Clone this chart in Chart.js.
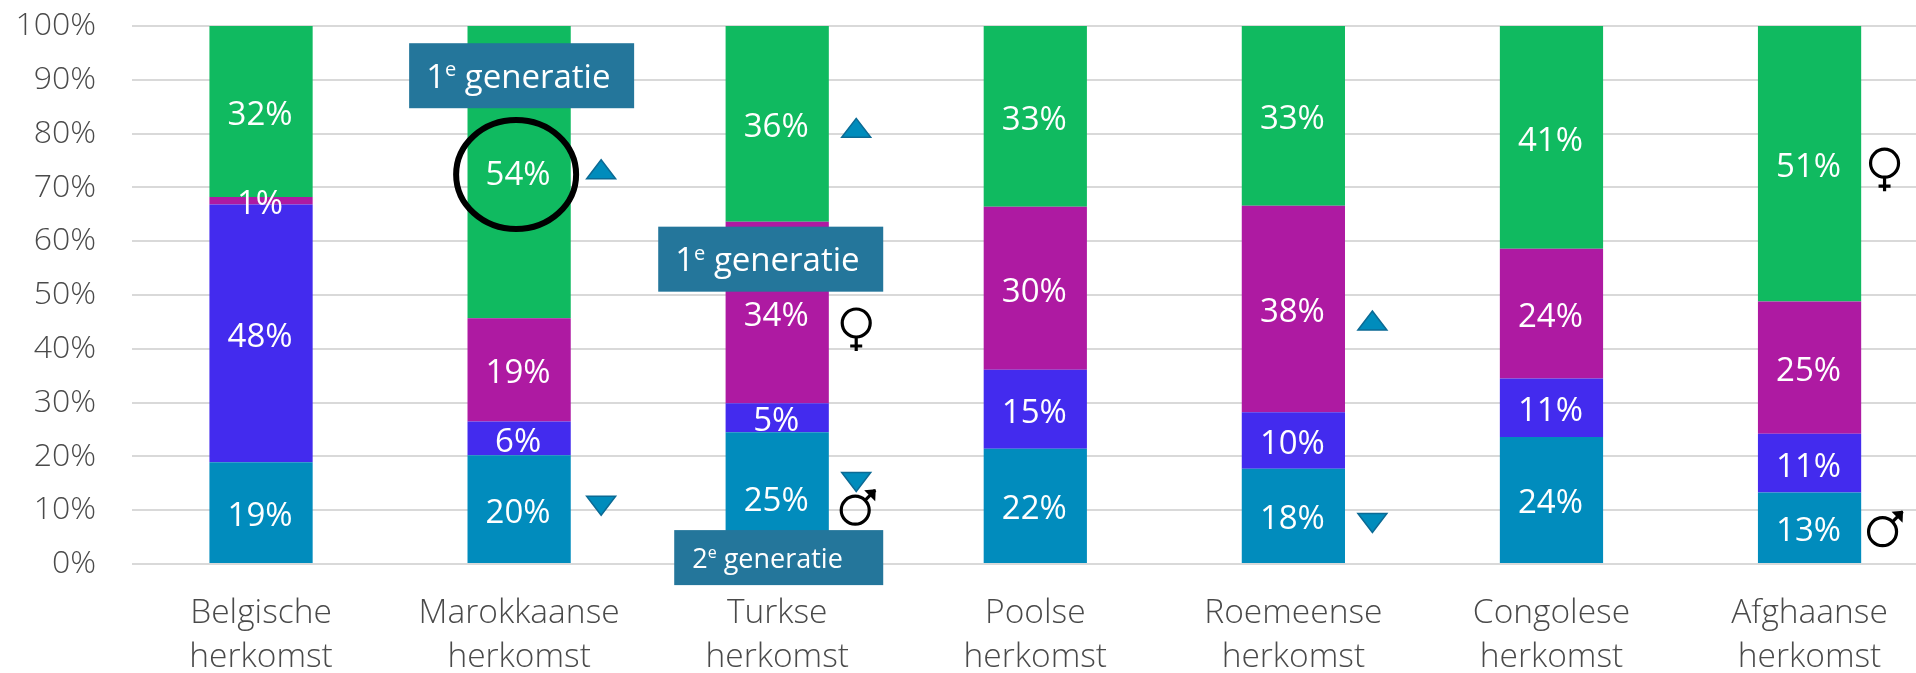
<!DOCTYPE html>
<html>
<head>
<meta charset="utf-8">
<style>html,body{margin:0;padding:0;background:#fff;overflow:hidden;width:1916px;height:673px}canvas{display:block}</style>
<script src="https://cdn.jsdelivr.net/npm/chart.js@4"></script>
</head>
<body>
<canvas id="c" width="1940" height="673"></canvas>
<script>
const categories = [["Belgische","herkomst"],["Marokkaanse","herkomst"],["Turkse","herkomst"],["Poolse","herkomst"],["Roemeense","herkomst"],["Congolese","herkomst"],["Afghaanse","herkomst"]];
const tealValues    = [18.9, 20.2, 24.5, 21.4, 17.7, 23.6, 13.3];
const purpleValues  = [47.9,  6.3,  5.4, 14.7, 10.5, 10.9, 10.9];
const magentaValues = [ 1.4, 19.2, 33.7, 30.3, 38.4, 24.1, 24.6];
const greenValues   = [31.8, 54.3, 36.4, 33.6, 33.4, 41.4, 51.2];
const tealLabels    = ["19%","20%","25%","22%","18%","24%","13%"];
const purpleLabels  = ["48%","6%","5%","15%","10%","11%","11%"];
const magentaLabels = ["1%","19%","34%","30%","38%","24%","25%"];
const greenLabels   = ["32%","54%","36%","33%","33%","41%","51%"];
const genLabels = ["1","e"," generatie"];
const gen2Labels = ["2","e"," generatie"];
const FONT = '"Open Sans", sans-serif';

const segmentLabels = {
  id:'segmentLabels',
  afterDatasetsDraw(chart){
    const ctx = chart.ctx;
    ctx.save();
    ctx.fillStyle='#fff';
    ctx.font='33px '+FONT;
    ctx.textAlign='center';
    ctx.textBaseline='middle';
    chart.data.datasets.forEach((ds,d)=>{
      chart.getDatasetMeta(d).data.forEach((el,i)=>{
        const c = el.getCenterPoint();
        ctx.fillText(ds.segLabels[i], c.x-1, c.y+4);
      });
    });
    ctx.restore();
  }
};

const overlays = {
  id:'overlays',
  afterDraw(chart){
    const ctx = chart.ctx, X = chart.scales.x, Y = chart.scales.y;
    const px = (i,dx)=>X.getPixelForValue(i)+dx;
    const py = v=>Y.getPixelForValue(v);
    function box(i,dx,w,vTop,h,parts,size,tx){
      const x=px(i,dx), y=py(vTop);
      ctx.fillStyle='#24769b';
      ctx.fillRect(x,y,w,h);
      ctx.fillStyle='#fff';
      ctx.textAlign='left';
      ctx.textBaseline='alphabetic';
      let cx=x+tx; const by=y+h/2+size*0.28+3;
      ctx.font=size+'px '+FONT;
      ctx.fillText(parts[0],cx,by); cx+=ctx.measureText(parts[0]).width;
      ctx.font=Math.round(size*0.6)+'px '+FONT;
      ctx.fillText(parts[1],cx,by-size*0.36); cx+=ctx.measureText(parts[1]).width;
      ctx.font=size+'px '+FONT;
      ctx.fillText(parts[2],cx,by);
    }
    function tri(i,dx,v,up){
      const cx=px(i,dx), y=py(v), h=19, hw=14.5;
      ctx.beginPath();
      if(up){ctx.moveTo(cx,y-h);ctx.lineTo(cx+hw,y);ctx.lineTo(cx-hw,y);}
      else{ctx.moveTo(cx,y+h);ctx.lineTo(cx+hw,y);ctx.lineTo(cx-hw,y);}
      ctx.closePath();
      ctx.fillStyle='#008cbc';ctx.fill();
      ctx.strokeStyle='#0b6a94';ctx.lineWidth=1.5;ctx.stroke();
    }
    function female(i,dx,v){
      const cx=px(i,dx), cy=py(v), r=14;
      ctx.strokeStyle='#000';ctx.lineWidth=3.2;
      ctx.beginPath();ctx.arc(cx,cy,r,0,Math.PI*2);ctx.stroke();
      ctx.beginPath();ctx.moveTo(cx,cy+r);ctx.lineTo(cx,cy+28);
      ctx.moveTo(cx-6,cy+23);ctx.lineTo(cx+6,cy+23);ctx.stroke();
    }
    function male(i,dx,v){
      const cx=px(i,dx), cy=py(v), r=14;
      ctx.strokeStyle='#000';ctx.lineWidth=3.2;
      ctx.beginPath();ctx.arc(cx,cy,r,0,Math.PI*2);ctx.stroke();
      ctx.beginPath();ctx.moveTo(cx+r*0.72,cy-r*0.72);ctx.lineTo(cx+20,cy-20);ctx.stroke();
      ctx.beginPath();ctx.moveTo(cx+20.5,cy-21);ctx.lineTo(cx+9,cy-20);ctx.lineTo(cx+20,cy-9);ctx.closePath();
      ctx.fillStyle='#000';ctx.fill();
    }
    ctx.save();
    tri(1,82,71.6,true);
    tri(1,82,12.6,false);
    tri(2,79,79.3,true);
    tri(2,79,17,false);
    tri(4,79,43.5,true);
    tri(4,79,9.4,false);
    female(2,79,44.8);
    male(2,78,10);
    female(6,75,74.5);
    male(6,73,6);
    box(1,-110,225,96.8,65,genLabels,33,17);
    box(2,-119,225,62.7,65,genLabels,33,17);
    box(2,-103,209,6.3,55,gen2Labels,27,18);
    ctx.strokeStyle='#000';ctx.lineWidth=6;
    ctx.beginPath();
    ctx.ellipse(px(1,-3),py(72.4),60,54.5,0,0,Math.PI*2);
    ctx.stroke();
    ctx.restore();
  }
};

new Chart(document.getElementById('c'),{
  type:'bar',
  data:{
    labels:categories,
    datasets:[
      {data:tealValues,backgroundColor:'#018cbd',segLabels:tealLabels},
      {data:purpleValues,backgroundColor:'#432bee',segLabels:purpleLabels},
      {data:magentaValues,backgroundColor:'#ae1aa2',segLabels:magentaLabels},
      {data:greenValues,backgroundColor:'#10ba60',segLabels:greenLabels}
    ]
  },
  options:{
    responsive:false,
    animation:false,
    events:[],
    layout:{padding:{top:26,right:1.4,left:0,bottom:0}},
    datasets:{bar:{barPercentage:0.4,categoryPercentage:1}},
    plugins:{legend:{display:false},title:{display:false},tooltip:{enabled:false}},
    scales:{
      x:{
        stacked:true,
        grid:{display:false},
        border:{display:false},
        ticks:{color:'#4a4a4a',font:{family:FONT,size:33.5,weight:300,lineHeight:1.3},padding:20,maxRotation:0,autoSkip:false},
        afterFit(s){s.height=109;s.paddingTop=0;s.paddingBottom=0;s.paddingLeft=0;s.paddingRight=0;}
      },
      y:{
        stacked:true,
        min:0,max:100,
        afterFit(s){s.width=132;s.paddingTop=0;s.paddingBottom=0;s.paddingLeft=0;s.paddingRight=0;},
        grid:{color:'#d9d9d9',lineWidth:2,drawTicks:false},
        border:{display:false},
        ticks:{stepSize:10,color:'#4a4a4a',font:{family:FONT,size:32,weight:300},padding:36,callback:v=>v+'%'}
      }
    }
  },
  plugins:[segmentLabels,overlays]
});
</script>
</body>
</html>
